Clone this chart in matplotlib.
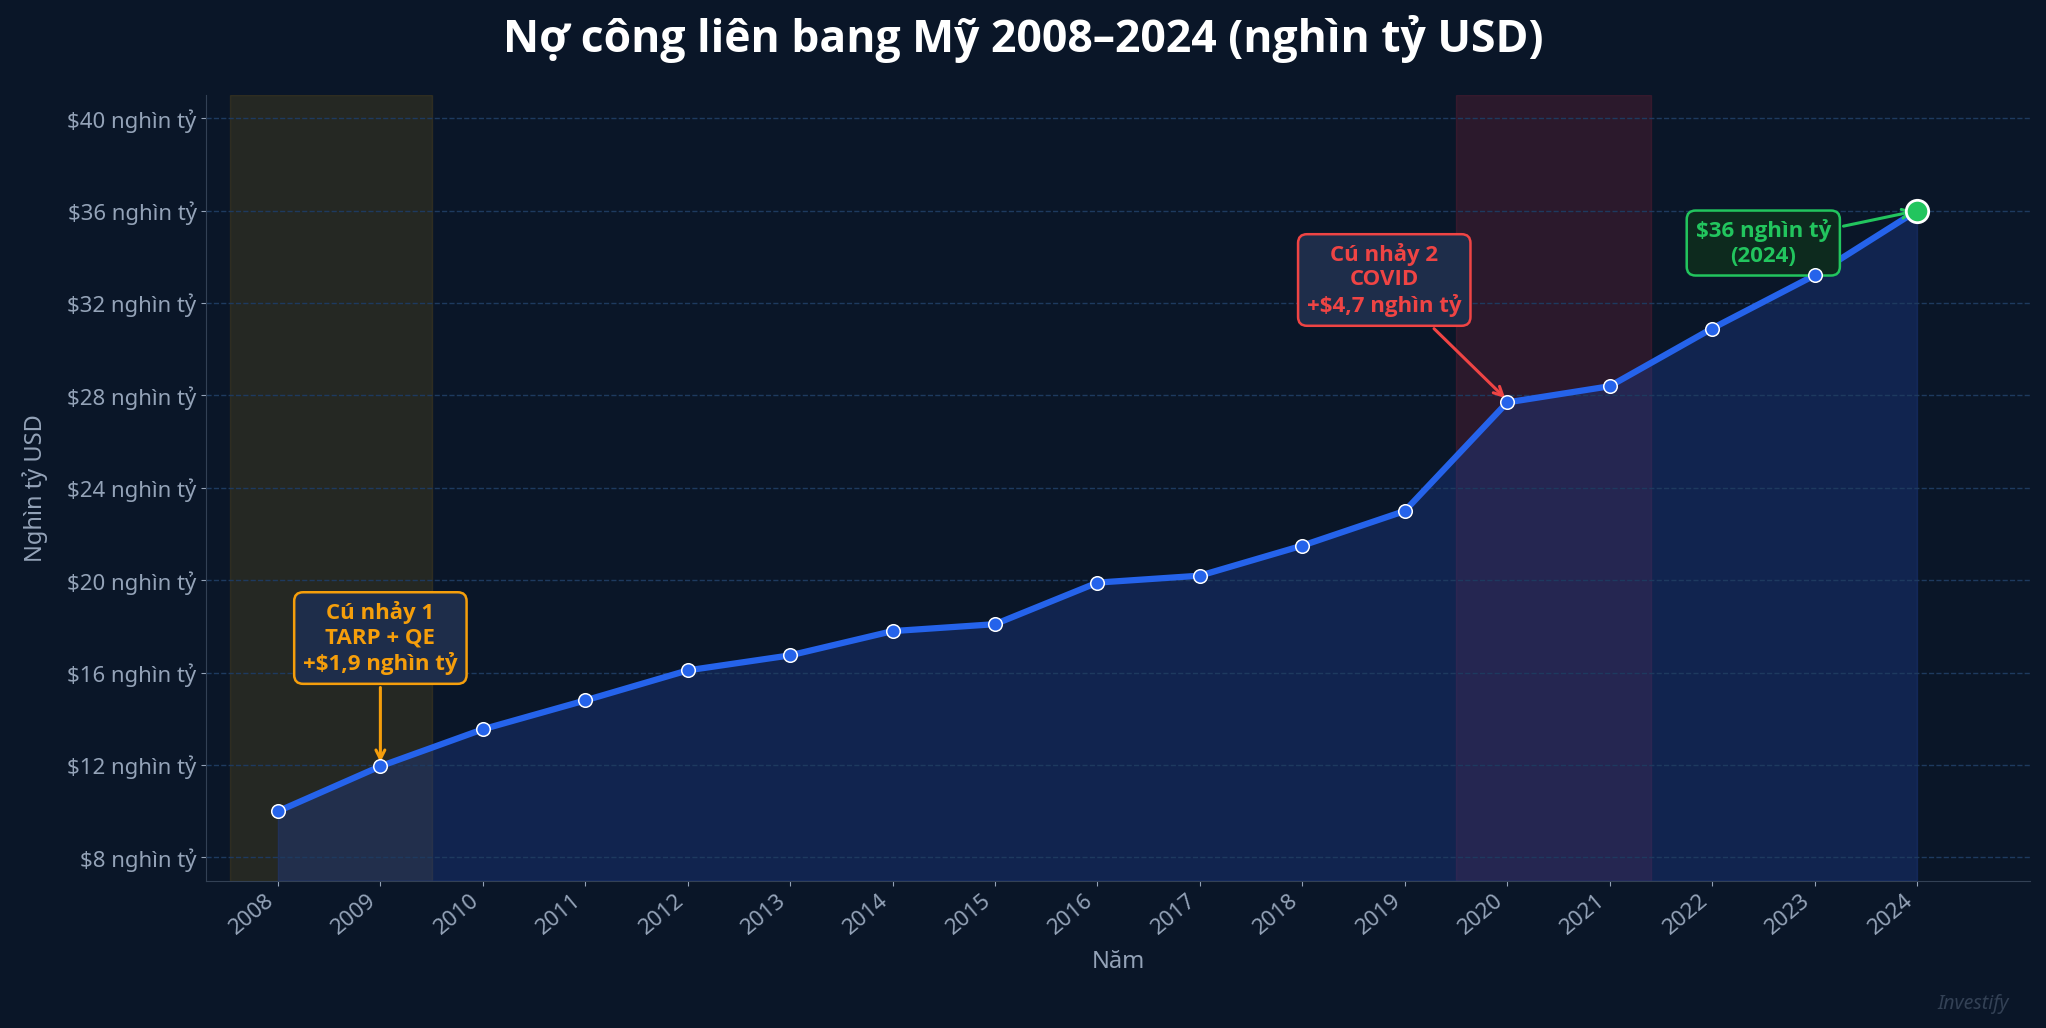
import matplotlib.pyplot as plt
import matplotlib.ticker as mticker

plt.rcParams['font.family'] = ['Noto Sans', 'DejaVu Sans']
BOLD = ['Open Sans', 'DejaVu Sans']

years = list(range(2008, 2025))
debt = [10.0, 11.95, 13.55, 14.8, 16.1, 16.75, 17.8, 18.1, 19.9, 20.2,
        21.5, 23.0, 27.7, 28.4, 30.9, 33.2, 36.0]
yticks = [8, 12, 16, 20, 24, 28, 32, 36, 40]

bg = '#0a1628'
line_c = '#2563eb'

fig = plt.figure(figsize=(20.46, 10.28), dpi=100, facecolor=bg)
ax = fig.add_axes([0.1008, 0.1434, 0.8912, 0.764])
ax.set_facecolor(bg)

ax.axvspan(2007.53, 2009.5, color='#5a4a1a', alpha=0.35, zorder=0)
ax.axvspan(2019.5, 2021.4, color='#6b1f35', alpha=0.35, zorder=0)

ax.fill_between(years, debt, 7, color='#1e3a8a', alpha=0.4, zorder=1)
ax.plot(years, debt, color=line_c, lw=4.5, zorder=3)
ax.scatter(years[:-1], debt[:-1], s=95, color=line_c, edgecolor='white', lw=1.1, zorder=7)
ax.scatter(years[-1:], debt[-1:], s=260, color='#22c55e', edgecolor='white', lw=2, zorder=7)

ax.set_xlim(2007.3, 2025.1)
ax.set_ylim(7, 41)
ax.set_xticks(years)
ax.set_xticklabels([str(y) for y in years], rotation=40, ha='right')
ax.set_yticks(yticks)
ax.yaxis.set_major_formatter(mticker.FuncFormatter(lambda v, p: f'${v:.0f} nghìn tỷ'))
ax.tick_params(colors='#94a3b8', labelsize=16)
ax.grid(axis='y', color='#1e3a5f', ls='--', lw=1)
for s in ['top', 'right']:
    ax.spines[s].set_visible(False)
for s in ['left', 'bottom']:
    ax.spines[s].set_color('#334155')

ax.set_xlabel('Năm', color='#94a3b8', fontsize=17, labelpad=8)
ax.set_ylabel('Nghìn tỷ USD', color='#94a3b8', fontsize=17, labelpad=14)
fig.suptitle('Nợ công liên bang Mỹ 2008–2024 (nghìn tỷ USD)', color='white',
             fontsize=32, fontweight='bold', family=BOLD, y=0.985)

ax.annotate('Cú nhảy 1\nTARP + QE\n+$1,9 nghìn tỷ', xy=(2009, 12.0), xytext=(2009, 17.5),
            ha='center', va='center', fontsize=16, fontweight='bold', family=BOLD, color='#f59e0b',
            bbox=dict(boxstyle='round,pad=0.4', fc='#1e2d4a', ec='#f59e0b', lw=1.8),
            arrowprops=dict(arrowstyle='->', color='#f59e0b', lw=2.2), zorder=6)
ax.annotate('Cú nhảy 2\nCOVID\n+$4,7 nghìn tỷ', xy=(2020, 27.8), xytext=(2018.8, 33.0),
            ha='center', va='center', fontsize=16, fontweight='bold', family=BOLD, color='#ef4444',
            bbox=dict(boxstyle='round,pad=0.4', fc='#1e2d4a', ec='#ef4444', lw=1.8),
            arrowprops=dict(arrowstyle='->', color='#ef4444', lw=2.2), zorder=6)
ax.annotate('$36 nghìn tỷ\n(2024)', xy=(2024, 36.0), xytext=(2022.5, 34.6),
            ha='center', va='center', fontsize=16, fontweight='bold', family=BOLD, color='#22c55e',
            bbox=dict(boxstyle='round,pad=0.4', fc='#0d2a1e', ec='#22c55e', lw=1.8),
            arrowprops=dict(arrowstyle='->', color='#22c55e', lw=2.2), zorder=6)

fig.text(0.982, 0.018, 'Investify', color='#334155', fontsize=14, style='italic', ha='right')

fig.savefig('out.png', facecolor=bg)
